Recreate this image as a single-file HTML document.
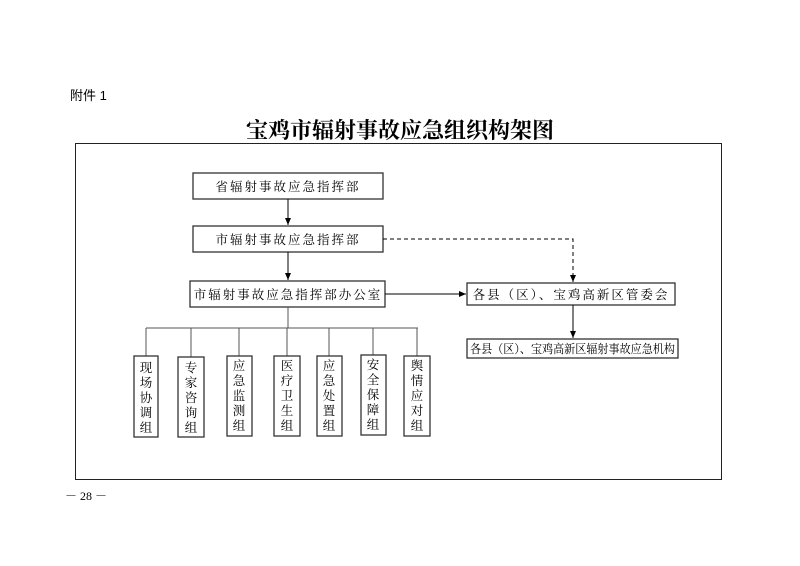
<!DOCTYPE html>
<html><head><meta charset="utf-8"><style>
body{margin:0;background:#fff;}
svg{display:block}
text{font-family:"Liberation Serif","Noto Serif CJK SC","Noto Sans CJK SC",serif;fill:#000}
</style></head><body>
<svg width="800" height="566" viewBox="0 0 800 566" xmlns="http://www.w3.org/2000/svg">
<defs><marker id="a" markerWidth="8" markerHeight="8" refX="7" refY="4" orient="auto" markerUnits="userSpaceOnUse"><path d="M0,1 L7,4 L0,7 Z" fill="#000"/></marker></defs>
<text x="70" y="100" font-size="13" style="font-family:'Liberation Sans','Noto Sans CJK SC',sans-serif">附件 1</text>
<text x="400" y="138" font-size="22" font-weight="bold" text-anchor="middle">宝鸡市辐射事故应急组织构架图</text>
<rect x="75.5" y="143.5" width="646" height="336" fill="none" stroke="#222" stroke-width="1"/>
<g fill="none" stroke="#333" stroke-width="1.3">
<rect x="193" y="173" width="190" height="26"/>
<rect x="193" y="226" width="190" height="26"/>
<rect x="190" y="281" width="195" height="26"/>
<rect x="467" y="283" width="208" height="22"/>
<rect x="467" y="339" width="211" height="19"/>
</g>
<g stroke="#000" stroke-width="1" fill="none">
<line x1="288" y1="199" x2="288" y2="225" marker-end="url(#a)"/>
<line x1="288" y1="252" x2="288" y2="280" marker-end="url(#a)"/>
<line x1="385" y1="294" x2="466" y2="294" marker-end="url(#a)"/>
<line x1="573" y1="305" x2="573" y2="338" marker-end="url(#a)"/>
<path d="M383,239 H573 V282" stroke-dasharray="4,3" marker-end="url(#a)"/>
<line x1="288" y1="307" x2="288" y2="328" stroke="#555"/>
<line x1="146" y1="328" x2="418" y2="328" stroke="#555"/>
</g>
<g font-size="12.5" text-anchor="middle" letter-spacing="2">
<text x="288" y="191">省辐射事故应急指挥部</text>
<text x="288" y="244">市辐射事故应急指挥部</text>
<text x="288" y="299">市辐射事故应急指挥部办公室</text>
<text x="571" y="299">各县（区）、宝鸡高新区管委会</text>
</g>
<text x="470" y="353" font-size="12" textLength="205" lengthAdjust="spacingAndGlyphs">各县（区）、宝鸡高新区辐射事故应急机构</text>
<g stroke="#555" stroke-width="1">
<line x1="146" y1="328" x2="146" y2="356"/><line x1="191" y1="328" x2="191" y2="357"/>
<line x1="239" y1="328" x2="239" y2="356"/><line x1="287" y1="328" x2="287" y2="356"/>
<line x1="329" y1="328" x2="329" y2="356"/><line x1="373" y1="328" x2="373" y2="355"/>
<line x1="417" y1="328" x2="417" y2="356"/>
</g>
<g fill="none" stroke="#333" stroke-width="1.3">
<rect x="134" y="356" width="24" height="81"/>
<rect x="178" y="357" width="26" height="80"/>
<rect x="227" y="356" width="25" height="80"/>
<rect x="274" y="356" width="26" height="80"/>
<rect x="317" y="356" width="25" height="80"/>
<rect x="361" y="355" width="25" height="80"/>
<rect x="404" y="356" width="26" height="80"/>
</g>
<g font-size="12.5" text-anchor="middle">
<text x="146" y="372">现</text><text x="146" y="387">场</text><text x="146" y="402">协</text><text x="146" y="417">调</text><text x="146" y="432">组</text>
<text x="191" y="372">专</text><text x="191" y="387">家</text><text x="191" y="402">咨</text><text x="191" y="417">询</text><text x="191" y="432">组</text>
<text x="239" y="370">应</text><text x="239" y="385">急</text><text x="239" y="400">监</text><text x="239" y="415">测</text><text x="239" y="430">组</text>
<text x="287" y="370">医</text><text x="287" y="385">疗</text><text x="287" y="400">卫</text><text x="287" y="415">生</text><text x="287" y="430">组</text>
<text x="329" y="370">应</text><text x="329" y="385">急</text><text x="329" y="400">处</text><text x="329" y="415">置</text><text x="329" y="430">组</text>
<text x="373" y="369">安</text><text x="373" y="384">全</text><text x="373" y="399">保</text><text x="373" y="414">障</text><text x="373" y="429">组</text>
<text x="417" y="370">舆</text><text x="417" y="385">情</text><text x="417" y="400">应</text><text x="417" y="415">对</text><text x="417" y="430">组</text>
</g>
<text x="65" y="500" font-size="12">－ 28 －</text>
</svg>
</body></html>
